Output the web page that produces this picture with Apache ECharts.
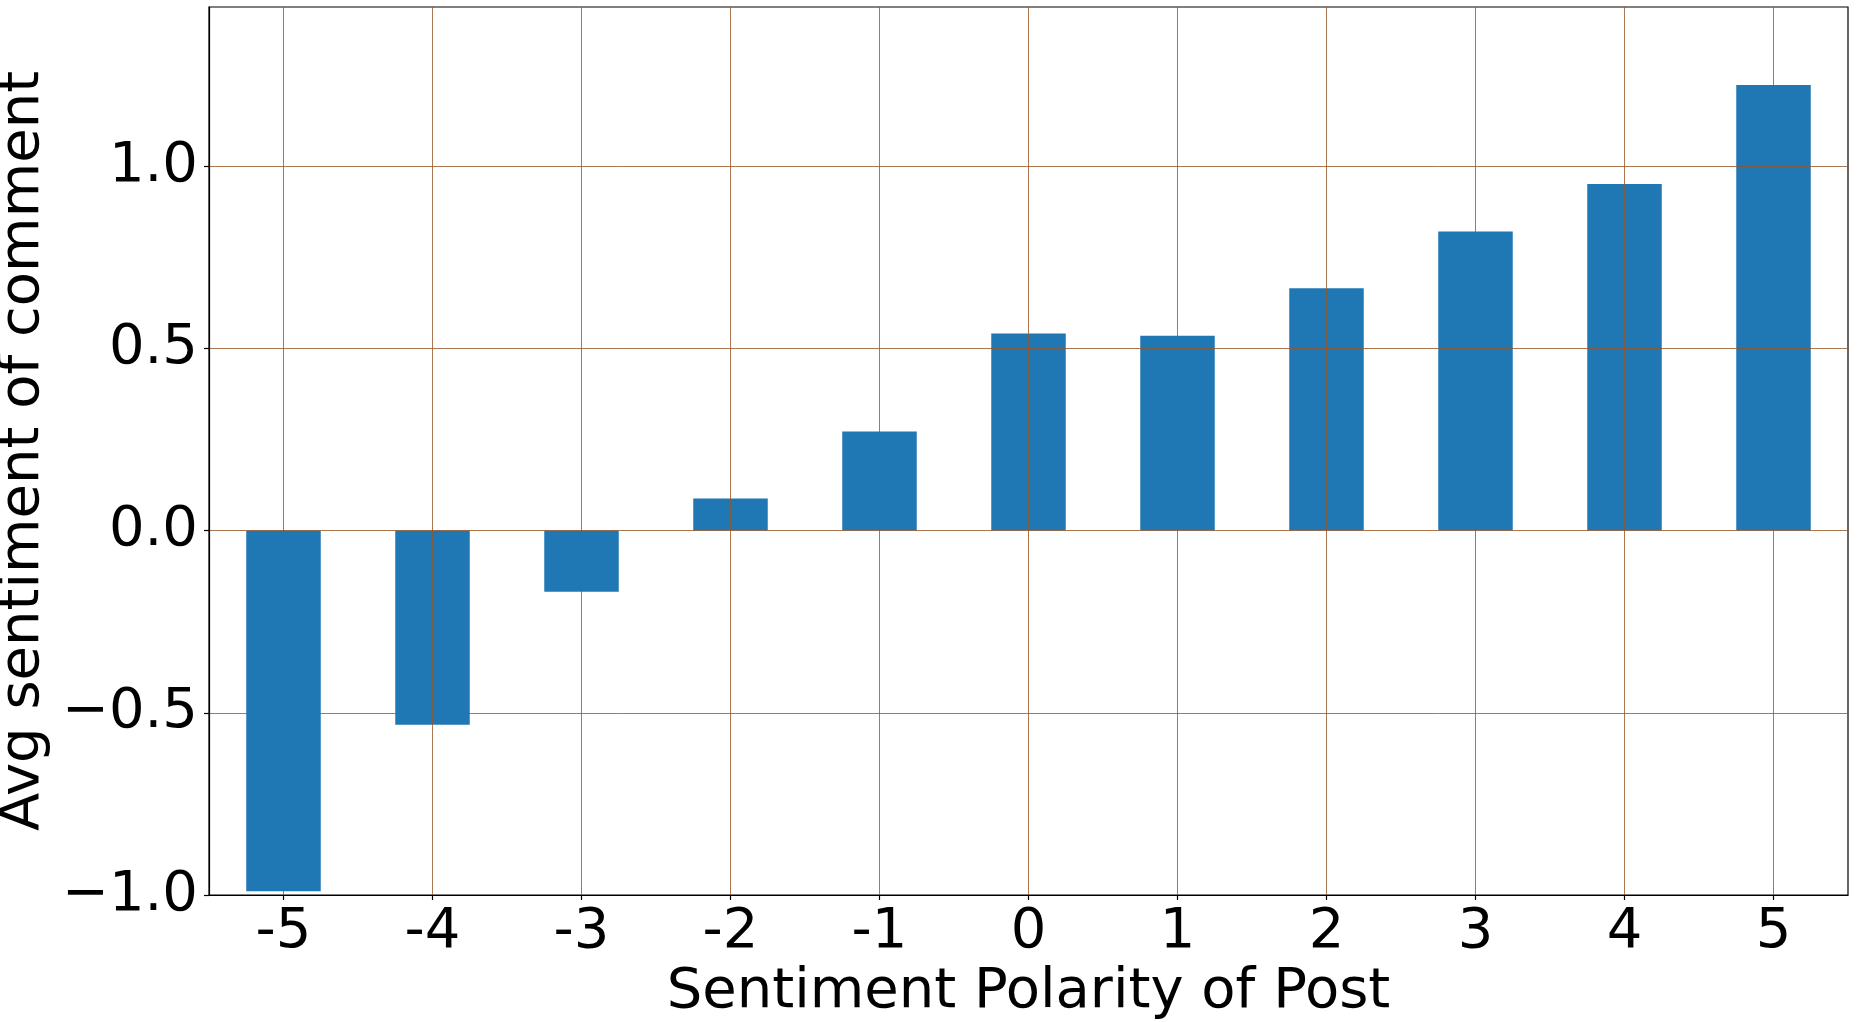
<!DOCTYPE html>
<html>
<head>
<meta charset="utf-8">
<title>Avg sentiment of comment by post polarity</title>
<script src="https://cdn.jsdelivr.net/npm/echarts@6/dist/echarts.min.js"></script>
<style>
  html, body { margin: 0; padding: 0; background: #fff; }
  #chart { width: 1861px; height: 1022px; }
</style>
</head>
<body>
<div id="chart"></div>
<script>
// post polarity buckets and the mean comment sentiment for each
var categories = ['-5', '-4', '-3', '-2', '-1', '0', '1', '2', '3', '4', '5'];
var avgSentiment = [-0.99, -0.533, -0.168, 0.088, 0.272, 0.541, 0.535, 0.665, 0.821, 0.951, 1.223];
var yTicks = [-1, -0.5, 0, 0.5, 1];

var FONT = 'DejaVu Sans';
var gridColor = 'rgba(150,85,40,0.8)';

function fmtY(v) {
    var s = Math.abs(v).toFixed(1);
    return v < 0 ? '\u2212' + s : s;
}

var chart = echarts.init(document.getElementById('chart'), null, { renderer: 'canvas' });

chart.setOption({
    animation: false,
    backgroundColor: '#fff',
    grid: {
        left: 209, right: 13, top: 7, bottom: 127,
        outerBoundsMode: 'none',
        containLabel: false,
        show: true, borderColor: '#000', borderWidth: 1.2, backgroundColor: 'transparent'
    },
    xAxis: {
        type: 'category',
        data: categories,
        z: 3,
        name: 'Sentiment Polarity of Post',
        nameLocation: 'middle',
        nameGap: 64,
        nameTextStyle: { fontFamily: FONT, fontSize: 56, color: '#000' },
        axisLine: { show: true, onZero: false, lineStyle: { color: '#000', width: 1.2 } },
        axisTick: { show: true, alignWithLabel: true, length: 5, lineStyle: { color: '#000', width: 1.2 } },
        axisLabel: { fontFamily: FONT, fontSize: 56, color: '#000', margin: 9 },
        splitLine: { show: true, alignWithLabel: true, lineStyle: { color: gridColor, width: 1 } }
    },
    yAxis: {
        type: 'value',
        min: -1,
        max: 1.437,
        interval: 0.5,
        z: 3,
        name: 'Avg sentiment of comment',
        nameLocation: 'middle',
        nameGap: 145,
        nameTextStyle: { fontFamily: FONT, fontSize: 56, color: '#000' },
        axisLine: { show: true, lineStyle: { color: '#000', width: 1.2 } },
        axisTick: { show: true, length: 5, customValues: yTicks, lineStyle: { color: '#000', width: 1.2 } },
        axisLabel: {
            fontFamily: FONT, fontSize: 56, color: '#000', margin: 11,
            customValues: yTicks,
            formatter: fmtY
        },
        splitLine: { show: true, lineStyle: { color: gridColor, width: 1 } }
    },
    series: [{
        type: 'bar',
        data: avgSentiment,
        barWidth: '50%',
        itemStyle: { color: '#1f77b4' },
        z: 2
    }]
});
</script>
</body>
</html>
